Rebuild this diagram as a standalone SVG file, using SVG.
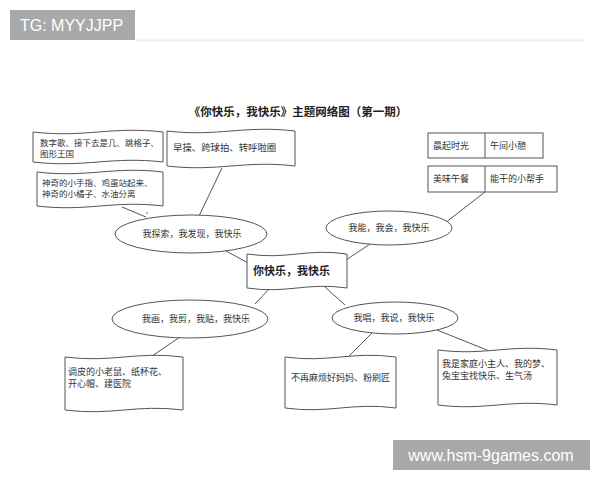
<svg xmlns="http://www.w3.org/2000/svg" width="600" height="480" viewBox="0 0 600 480">
<style>
.sh{fill:#fff;stroke:#555;stroke-width:1}
.t{font-family:"Noto Sans CJK SC","Noto Sans",sans-serif;font-size:9px;fill:#333}
.s{font-size:8.5px}
.b{font-weight:bold;fill:#222}
.c line{stroke:#555;stroke-width:1}
</style>
<rect width="600" height="480" fill="#fff"/>
<line x1="135" y1="40.5" x2="585" y2="40.5" stroke="#eee" stroke-width="2"/>
<rect x="10" y="10" width="125" height="30" fill="#a9a9a9"/>
<text x="20" y="31" font-family="Liberation Sans,Arial,sans-serif" font-size="16" fill="#fff">TG: MYYJJPP</text>
<text x="298" y="116" class="t b" style="font-size:11.5px" text-anchor="middle">《你快乐，我快乐》主题网络图（第一期）</text>
<g class="c" id="connectors">
<line x1="122" y1="207" x2="146" y2="217"/>
<line x1="222" y1="168" x2="199" y2="216"/>
<line x1="485" y1="192" x2="445" y2="223"/>
<line x1="226" y1="251" x2="250" y2="264"/>
<line x1="370" y1="244" x2="346" y2="260"/>
<line x1="270" y1="288" x2="255" y2="304"/>
<line x1="325" y1="287" x2="345" y2="305"/>
<line x1="180" y1="337" x2="152" y2="356"/>
<line x1="372" y1="333" x2="347" y2="358"/>
<line x1="437" y1="330" x2="492" y2="352"/>
</g>
<g id="boxA"><path class="sh" d="M33,132 C85,138 111,126 163,132 L163,162 C111,156 85,168 33,162 Z"/>
<text class="t s" x="40" y="146">数字歌、接下去是几、跳格子、</text><text class="t s" x="40" y="157">图形王国</text></g>
<g id="boxB"><path class="sh" d="M37,172 C87,178 113,166 163,172 L163,206 C113,200 87,212 37,206 Z"/>
<text class="t s" x="42" y="186">神奇的小手指、鸡蛋站起来、</text><text class="t s" x="42" y="197">神奇的小橘子、水油分离</text>
<circle cx="147" cy="213" r="0.8" fill="#555"/></g>
<g id="boxC"><path class="sh" d="M167,131 C218,137 244,125 295,131 L295,166 C244,160 218,172 167,166 Z"/>
<text class="t" x="173" y="151" style="font-size:9.4px">早操、跨球拍、转呼啦圈</text></g>
<g id="table">
<rect class="sh" x="428" y="133" width="115" height="25"/><line x1="485" y1="133" x2="485" y2="158" stroke="#555"/>
<text class="t" x="433" y="149">晨起时光</text><text class="t" x="490" y="149">午间小憩</text>
<rect class="sh" x="428" y="166" width="129" height="26"/><line x1="485" y1="166" x2="485" y2="192" stroke="#555"/>
<text class="t" x="433" y="182">美味午餐</text><text class="t" x="490" y="182">能干的小帮手</text></g>
<g id="e1"><ellipse class="sh" cx="191" cy="234" rx="76" ry="19"/>
<text class="t" x="192" y="237" text-anchor="middle">我探索，我发现，我快乐</text></g>
<g id="e2"><ellipse class="sh" cx="389" cy="228" rx="63" ry="17"/>
<text class="t" x="389" y="231" text-anchor="middle">我能，我会，我快乐</text></g>
<g id="center"><path class="sh" d="M247,254 C287,260 307,248 347,254 L347,288 C307,282 287,294 247,288 Z"/>
<text class="t b" x="253" y="275" style="font-size:11px">你快乐，我快乐</text></g>
<g id="e3"><ellipse class="sh" cx="190" cy="319" rx="78" ry="19"/>
<text class="t" x="196" y="322" text-anchor="middle">我画，我剪，我贴，我快乐</text></g>
<g id="e4"><ellipse class="sh" cx="395" cy="318" rx="63" ry="16"/>
<text class="t" x="394" y="321" text-anchor="middle">我唱，我说，我快乐</text></g>
<g id="box10"><path class="sh" d="M65,357 C112,363 136,351 183,357 L183,410 C136,404 112,416 65,410 Z"/>
<text class="t" x="68" y="375">调皮的小老鼠、纸杯花、</text><text class="t" x="68" y="387">开心帽、建医院</text></g>
<g id="box11"><path class="sh" d="M285,357 C329,363 352,351 396,357 L396,408 C352,402 329,414 285,408 Z"/>
<text class="t" x="291" y="381">不再麻烦好妈妈、粉刷匠</text></g>
<g id="box12"><path class="sh" d="M438,350 C486,356 509,344 557,350 L557,405 C509,399 486,411 438,405 Z"/>
<text class="t" x="442" y="367">我是家庭小主人、我的梦、</text><text class="t" x="442" y="379">兔宝宝找快乐、生气汤</text></g>
<rect x="393" y="440" width="197" height="30" fill="#a9a9a9"/>
<text x="491" y="461" font-family="Liberation Sans,Arial,sans-serif" font-size="16" fill="#fff" text-anchor="middle">www.hsm-9games.com</text>
</svg>
